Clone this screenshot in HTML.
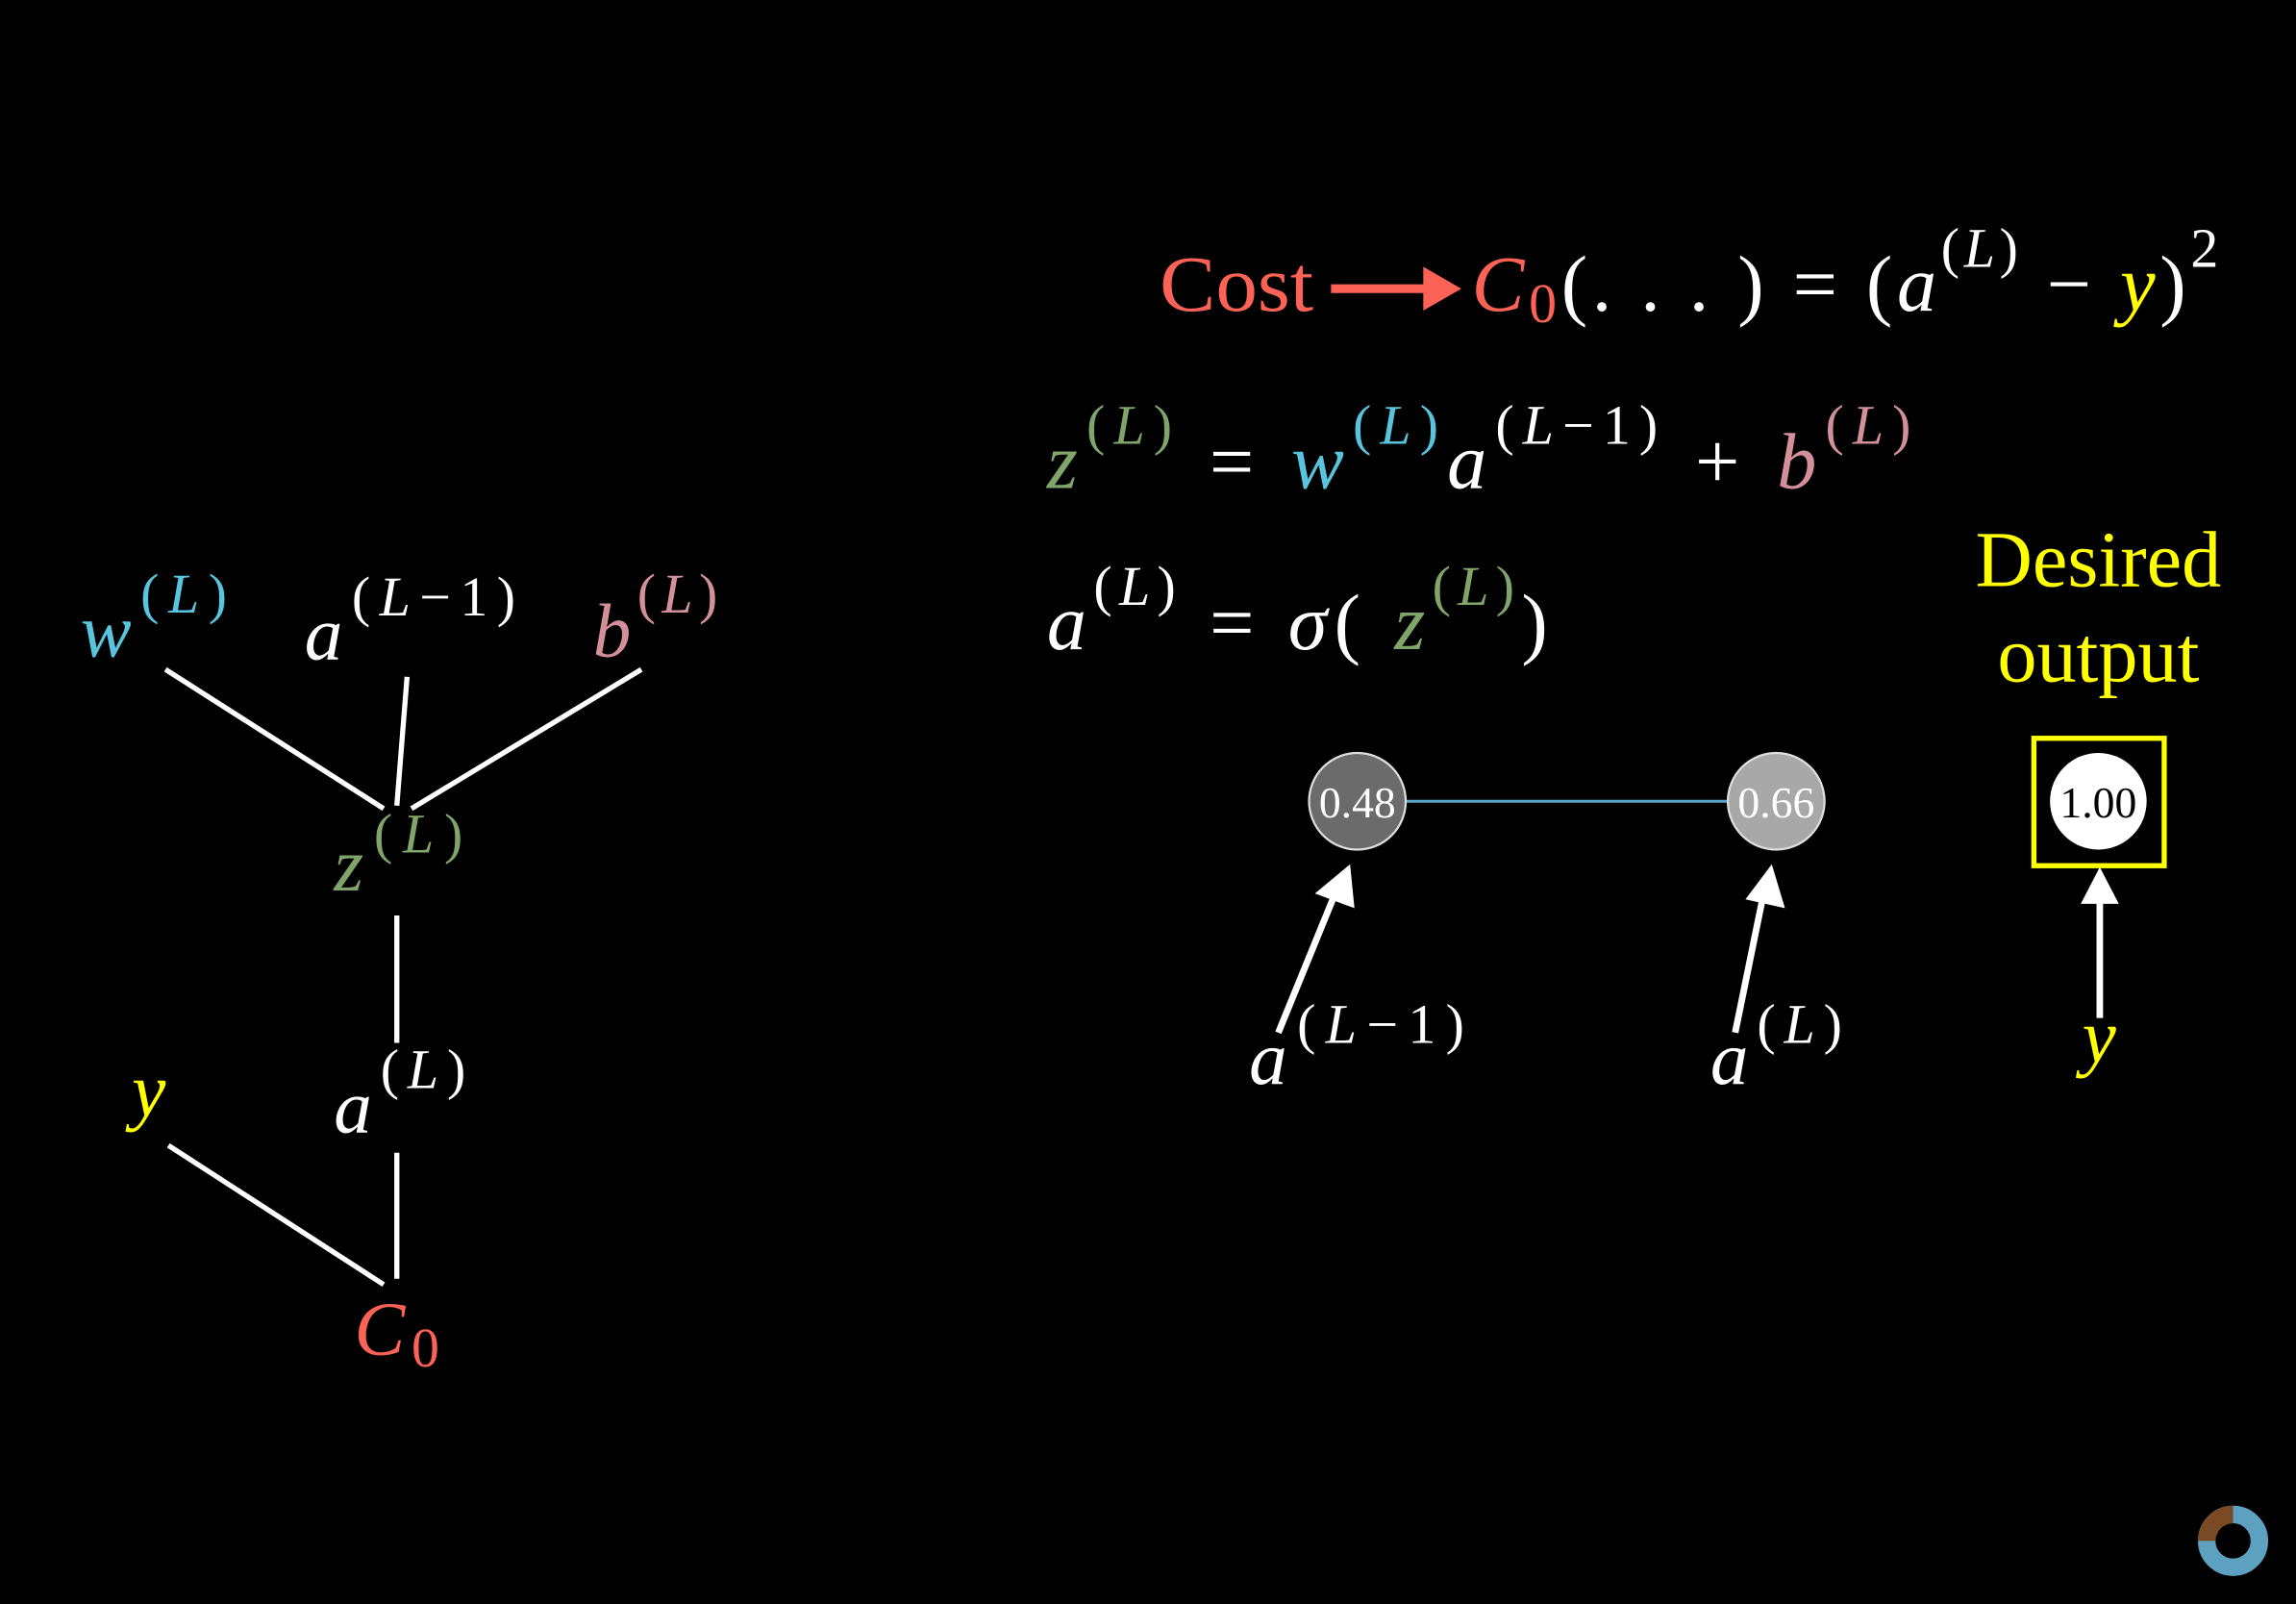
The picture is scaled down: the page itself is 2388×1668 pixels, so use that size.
<!DOCTYPE html>
<html><head><meta charset="utf-8"><style>
html,body{margin:0;padding:0;background:#000;width:2388px;height:1668px;overflow:hidden}
svg{display:block}
text{font-family:"Liberation Serif",serif}
.m{font-style:italic}
</style></head><body>
<svg width="2388" height="1668" viewBox="0 0 1568 1095" xmlns="http://www.w3.org/2000/svg">
<rect width="1568" height="1095" fill="#000"/>
<g stroke="#fff" stroke-width="3.5" fill="none">
  <line x1="113" y1="457" x2="262" y2="552"/>
  <line x1="278" y1="462" x2="271" y2="550"/>
  <line x1="438" y1="457" x2="281" y2="552"/>
  <line x1="271" y1="625" x2="271" y2="712"/>
  <line x1="115" y1="782" x2="262" y2="877"/>
  <line x1="271" y1="787" x2="271" y2="873"/>
</g>
<g font-size="52">
  <text x="55" y="448" fill="#58c4dd" textLength="100" lengthAdjust="spacing"><tspan class="m">w</tspan><tspan font-size="38" dy="-30">(<tspan class="m">L</tspan>)</tspan></text>
  <text x="208" y="450" fill="#fff" textLength="144" lengthAdjust="spacing"><tspan class="m">a</tspan><tspan font-size="38" dy="-30">(<tspan class="m">L</tspan>−1)</tspan></text>
  <text x="405" y="448" fill="#d4909a" textLength="85" lengthAdjust="spacing"><tspan class="m">b</tspan><tspan font-size="38" dy="-30">(<tspan class="m">L</tspan>)</tspan></text>
  <text x="228" y="608" fill="#7fa56a" textLength="88" lengthAdjust="spacing"><tspan class="m">z</tspan><tspan font-size="38" dy="-26">(<tspan class="m">L</tspan>)</tspan></text>
  <text x="90" y="762" fill="#ffff00" class="m">y</text>
  <text x="228" y="773" fill="#fff" textLength="90" lengthAdjust="spacing"><tspan class="m">a</tspan><tspan font-size="38" dy="-30">(<tspan class="m">L</tspan>)</tspan></text>
  <text x="242" y="925" fill="#fc6255" textLength="58" lengthAdjust="spacing"><tspan class="m">C</tspan><tspan font-size="38" dy="8">0</tspan></text>
</g>
<g font-size="54" fill="#fff">
  <text x="792" y="212" fill="#fc6255" textLength="105" lengthAdjust="spacingAndGlyphs">Cost</text>
  <line x1="909" y1="197" x2="975" y2="197" stroke="#fc6255" stroke-width="6"/>
  <polygon points="972,182 998,197 972,212" fill="#fc6255"/>
  <text x="1005" y="212" textLength="510" lengthAdjust="spacing"><tspan class="m" fill="#fc6255">C</tspan><tspan fill="#fc6255" font-size="38" dy="8">0</tspan><tspan dy="-8">(. . . ) = (</tspan><tspan class="m">a</tspan><tspan font-size="38" dy="-30">(<tspan class="m">L</tspan>)</tspan><tspan dy="30"> − </tspan><tspan class="m" fill="#ffff00">y</tspan><tspan>)</tspan><tspan font-size="38" dy="-30">2</tspan></text>
</g>
<text x="715" y="333" font-size="54" fill="#fff" textLength="590" lengthAdjust="spacing"><tspan class="m" fill="#7fa56a">z</tspan><tspan font-size="38" dy="-30" fill="#7fa56a">(<tspan class="m">L</tspan>)</tspan><tspan dy="30"> = </tspan><tspan class="m" fill="#58c4dd">w</tspan><tspan font-size="38" dy="-30" fill="#58c4dd">(<tspan class="m">L</tspan>)</tspan><tspan dy="30" class="m">a</tspan><tspan font-size="38" dy="-30">(<tspan class="m">L</tspan>−1)</tspan><tspan dy="30"> + </tspan><tspan class="m" fill="#d4909a">b</tspan><tspan font-size="38" dy="-30" fill="#d4909a">(<tspan class="m">L</tspan>)</tspan></text>
<text x="715" y="443" font-size="54" fill="#fff" textLength="342" lengthAdjust="spacing"><tspan class="m">a</tspan><tspan font-size="38" dy="-30">(<tspan class="m">L</tspan>)</tspan><tspan dy="30"> = </tspan><tspan class="m">σ</tspan><tspan>( </tspan><tspan class="m" fill="#7fa56a">z</tspan><tspan font-size="38" dy="-30" fill="#7fa56a">(<tspan class="m">L</tspan>)</tspan><tspan dy="30">)</tspan></text>
<text x="1433" y="400" font-size="54" fill="#ffff00" text-anchor="middle">Desired</text>
<text x="1433" y="465" font-size="54" fill="#ffff00" text-anchor="middle">output</text>
<line x1="960" y1="547" x2="1180" y2="547" stroke="#58a8cc" stroke-width="2"/>
<g>
  <circle cx="927" cy="547" r="33" fill="#6b6b6b" stroke="#ddd" stroke-width="1.5"/>
  <text x="927" y="558" font-size="30" fill="#fff" text-anchor="middle">0.48</text>
</g>
<g>
  <circle cx="1213" cy="547" r="33" fill="#a8a8a8" stroke="#ddd" stroke-width="1.5"/>
  <text x="1213" y="558" font-size="30" fill="#fff" text-anchor="middle">0.66</text>
</g>
<rect x="1389" y="504" width="89" height="87" fill="none" stroke="#ffff00" stroke-width="3.5"/>
<g>
  <circle cx="1433" cy="547" r="33" fill="#fff"/>
  <text x="1433" y="558" font-size="30" fill="#000" text-anchor="middle">1.00</text>
</g>
<g stroke="#fff" stroke-width="4.5" fill="#fff">
  <line x1="873" y1="705" x2="911" y2="612"/>
  <polygon stroke="none" points="922,590 925,620 898,610"/>
  <line x1="1185" y1="705" x2="1204" y2="612"/>
  <polygon stroke="none" points="1210,590 1219,620 1192,614"/>
  <line x1="1434" y1="695" x2="1434" y2="612"/>
  <polygon stroke="none" points="1434,592 1447,617 1421,617"/>
</g>
<g font-size="52" fill="#fff">
  <text x="853" y="740" textLength="147" lengthAdjust="spacing"><tspan class="m">a</tspan><tspan font-size="38" dy="-28">(<tspan class="m">L</tspan>−1)</tspan></text>
  <text x="1168" y="740" textLength="90" lengthAdjust="spacing"><tspan class="m">a</tspan><tspan font-size="38" dy="-28">(<tspan class="m">L</tspan>)</tspan></text>
  <text x="1422" y="725" fill="#ffff00" class="m">y</text>
</g>
<g>
  <circle cx="1525" cy="1052" r="18" fill="none" stroke="#5da0c0" stroke-width="12"/>
  <path d="M1525,1028 A24,24 0 0 0 1501,1052 L1513,1052 A12,12 0 0 1 1525,1040 Z" fill="#7a4a24"/>
</g>
</svg>
</body></html>
